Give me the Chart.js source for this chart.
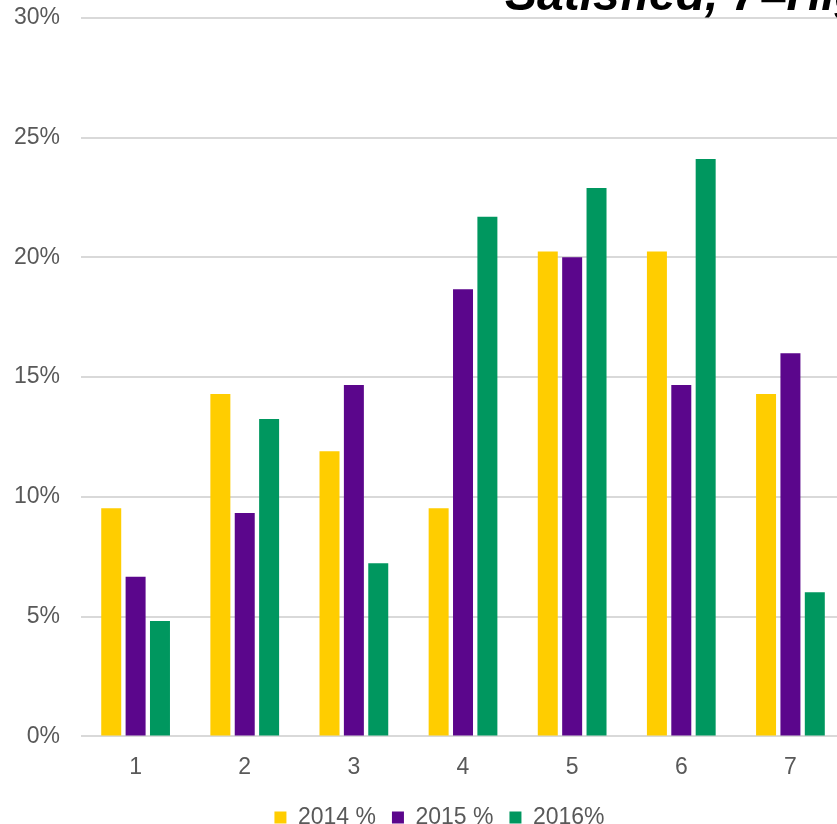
<!DOCTYPE html>
<html>
<head>
<meta charset="utf-8">
<script src="https://cdn.jsdelivr.net/npm/chart.js@4/dist/chart.umd.min.js"></script>
<style>
  body { margin: 0; background: #fff; }
  #wrap { position: relative; width: 837px; height: 824px; overflow: hidden; }
  #chart { position: absolute; left: 0; top: -17px; }
  #title {
    position: absolute; top: -78px; left: 505px;
    font: italic bold 48px/48px 'Liberation Sans', Arial, sans-serif;
    color: #000; white-space: nowrap;
  }
</style>
</head>
<body>
<div id="wrap">
  <canvas id="chart" width="878" height="856"></canvas>
  <!-- title is wider than the chart and runs off the picture, so it lives in html -->
  <div id="title">Overall Satisfaction (1=Not at all<br>Satisfied, 7=Highly Satisfied)</div>
</div>
<script>
// rating scale 1..7
const categories = ["1", "2", "3", "4", "5", "6", "7"];

// share of answers per rating, in percent
const pct2014 = [9.52, 14.29, 11.90, 9.52, 20.24, 20.24, 14.29];
const pct2015 = [6.67, 9.33, 14.67, 18.67, 20.00, 14.67, 16.00];
const pct2016 = [4.82, 13.25, 7.23, 21.69, 22.89, 24.10, 6.02];

const seriesLabels = ["2014 %", "2015 %", "2016%"];

const fontFamily = "'Liberation Sans', Arial, sans-serif";
Chart.defaults.font.family = fontFamily;
Chart.defaults.color = "#595959";

let ctx = document.getElementById("chart").getContext("2d");
let BarChart = new Chart(ctx, {
    type: "bar",
    data: {
        labels: categories,
        datasets: [
            { label: seriesLabels[0], data: pct2014, backgroundColor: "#FFCD00" },
            { label: seriesLabels[1], data: pct2015, backgroundColor: "#5B068C" },
            { label: seriesLabels[2], data: pct2016, backgroundColor: "#00975F" }
        ]
    },
    options: {
        responsive: false,
        animation: false,
        layout: {
            padding: { left: -7, right: -8, top: 0, bottom: 0 }
        },
        datasets: {
            bar: {
                barPercentage: 0.82,
                categoryPercentage: 0.67
            }
        },
        plugins: {
            title: { display: false },
            legend: {
                position: "bottom",
                labels: {
                    boxWidth: 12,
                    boxHeight: 12,
                    padding: 16,
                    font: { size: 23, lineHeight: 0.5 }
                }
            },
            tooltip: { enabled: false }
        },
        scales: {
            x: {
                grid: { display: false },
                border: { display: false },
                ticks: { padding: 9, font: { size: 23 } }
            },
            y: {
                min: 0,
                max: 30,
                grid: { color: "#d9d9d9", lineWidth: 2, drawTicks: false },
                border: { display: false },
                ticks: {
                    stepSize: 5,
                    padding: 21,
                    font: { size: 23 },
                    callback: (v) => v + "%"
                }
            },
            // empty right axis, only keeps the legend centred like the original
            yRight: {
                position: "right",
                grid: { display: false },
                border: { display: false },
                ticks: { display: false },
                afterFit: (axis) => { axis.width = 41; }
            }
        }
    }
});
</script>
</body>
</html>
